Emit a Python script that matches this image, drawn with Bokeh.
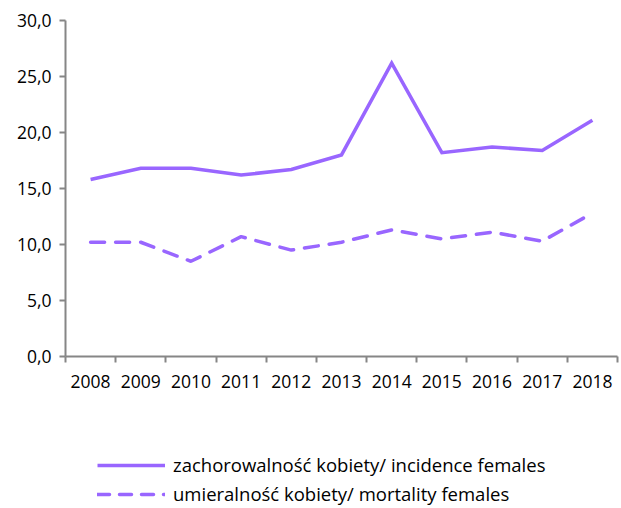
from bokeh.plotting import figure
from bokeh.layouts import column
from bokeh.models import FixedTicker, Range1d, Legend, LegendItem, ColumnDataSource
from bokeh.embed import file_html
from bokeh.resources import INLINE

years = ["2008", "2009", "2010", "2011", "2012", "2013", "2014", "2015", "2016", "2017", "2018"]
incidence = [15.8, 16.8, 16.8, 16.2, 16.7, 18.0, 26.2, 18.2, 18.7, 18.4, 21.1]
mortality = [10.2, 10.2, 8.5, 10.7, 9.5, 10.2, 11.3, 10.5, 11.1, 10.3, 12.8]
y_ticks = [0, 5, 10, 15, 20, 25, 30]
label_incidence = "zachorowalność kobiety/ incidence females"
label_mortality = "umieralność kobiety/ mortality females"

color = "#9966ff"
font = "Open Sans"
fs = "17.5px"

xpos = [i + 0.5 for i in range(len(years))]
src = ColumnDataSource(dict(x=xpos, inc=incidence, mort=mortality))

p = figure(width=621, height=400, output_backend="svg", toolbar_location=None,
           x_range=Range1d(0, len(years)), y_range=Range1d(0, 30),
           min_border_left=65, min_border_right=4, min_border_top=20, min_border_bottom=44)
p.outline_line_color = None
p.xgrid.grid_line_color = None
p.ygrid.grid_line_color = None

r1 = p.line("x", "inc", source=src, line_color=color, line_width=3.5, line_join="miter")
r2 = p.line("x", "mort", source=src, line_color=color, line_width=3.5, line_dash="14 11", line_cap="round")

xa = p.xaxis[0]
xa.ticker = FixedTicker(ticks=xpos, minor_ticks=list(range(len(years) + 1)))
xa.major_label_overrides = {x: y for x, y in zip(xpos, years)}
xa.major_tick_line_color = None
xa.minor_tick_line_color = "#868686"
xa.minor_tick_out = 6
xa.minor_tick_in = 0
xa.minor_tick_line_width = 2
xa.axis_line_color = "#868686"
xa.axis_line_width = 2
xa.major_label_text_font = font
xa.major_label_text_font_size = fs
xa.major_label_text_color = "#000000"
xa.major_label_standoff = 12

ya = p.yaxis[0]
ya.ticker = FixedTicker(ticks=y_ticks)
ya.major_label_overrides = {t: f"{t},0" for t in y_ticks}
ya.minor_tick_line_color = None
ya.major_tick_line_color = "#868686"
ya.major_tick_line_width = 2
ya.major_tick_out = 6
ya.major_tick_in = 0
ya.axis_line_color = "#868686"
ya.axis_line_width = 2
ya.major_label_text_font = font
ya.major_label_text_font_size = fs
ya.major_label_text_color = "#000000"
ya.major_label_standoff = 8

# legend figure (holds only the legend; its sample lines lie outside its view)
p2 = figure(width=621, height=108, output_backend="svg", toolbar_location=None,
            x_range=Range1d(0, 1), y_range=Range1d(0, 1),
            x_axis_location=None, y_axis_location=None,
            min_border_left=0, min_border_right=0, min_border_top=0, min_border_bottom=0)
p2.outline_line_color = None
p2.xgrid.grid_line_color = None
p2.ygrid.grid_line_color = None
dummy = ColumnDataSource(dict(x=[-5, -4], y=[-5, -4]))
l1 = p2.line("x", "y", source=dummy, line_color=color, line_width=3.5)
l2 = p2.line("x", "y", source=dummy, line_color=color, line_width=3.5, line_dash="12 10", line_cap="round")

legend = Legend(items=[LegendItem(label=label_incidence, renderers=[l1]),
                       LegendItem(label=label_mortality, renderers=[l2])],
                orientation="vertical", location=(32, 2),
                label_text_font=font, label_text_font_size="18.5px", label_text_color="#000000",
                glyph_width=68, glyph_height=22, label_standoff=8, spacing=4,
                border_line_color=None, background_fill_alpha=0, padding=0)
legend.margin = 0
p2.add_layout(legend, "center")

layout = column(p, p2, spacing=0)
open("out.html", "w").write(file_html(layout, INLINE))
